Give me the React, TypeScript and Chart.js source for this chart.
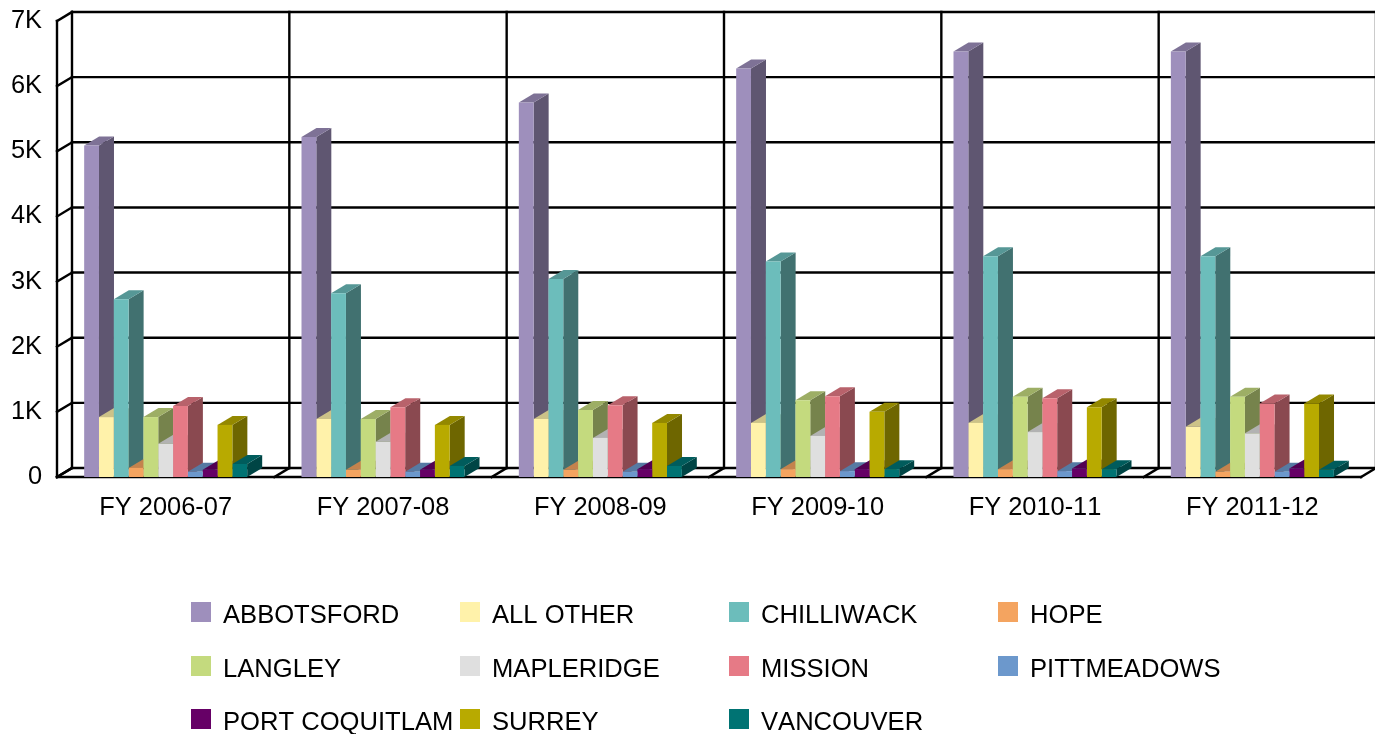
import React, { useEffect, useRef } from "react";
import { Chart, registerables } from "chart.js";

Chart.register(...registerables);

const categories = ["FY 2006-07", "FY 2007-08", "FY 2008-09", "FY 2009-10", "FY 2010-11", "FY 2011-12"];
const abbotsford = [5090, 5220, 5750, 6270, 6530, 6530];
const allOther = [920, 890, 890, 830, 830, 770];
const chilliwack = [2730, 2820, 3040, 3310, 3390, 3390];
const hope = [140, 110, 110, 120, 120, 80];
const langley = [920, 890, 1030, 1180, 1230, 1230];
const mapleridge = [510, 540, 600, 630, 690, 670];
const mission = [1090, 1070, 1100, 1240, 1210, 1130];
const pittmeadows = [80, 80, 80, 90, 90, 80];
const portCoquitlam = [110, 110, 120, 120, 130, 130];
const surrey = [800, 800, 830, 1000, 1070, 1130];
const vancouver = [200, 170, 170, 120, 120, 110];

const seriesNames = ["ABBOTSFORD", "ALL OTHER", "CHILLIWACK", "HOPE", "LANGLEY", "MAPLERIDGE", "MISSION", "PITTMEADOWS", "PORT COQUITLAM", "SURREY", "VANCOUVER"];
const seriesValues = [abbotsford, allOther, chilliwack, hope, langley, mapleridge, mission, pittmeadows, portCoquitlam, surrey, vancouver];
const seriesColors = ["#9E8FBC", "#FFF2AA", "#6CBDBB", "#F4A460", "#C4DA7E", "#DFDFDF", "#E67A86", "#6C98CC", "#660066", "#B8AA00", "#007373"];

const DX = 15;
const DY = 9;
const FONT_FAMILY = '"Liberation Sans", Arial, sans-serif';
const FONT_SIZE = 25.4;
const LEGEND_FONT_SIZE = 25.6;

function shade(hex: string, k: number) {
  const n = parseInt(hex.slice(1), 16);
  const r = Math.round(((n >> 16) & 255) * k);
  const g = Math.round(((n >> 8) & 255) * k);
  const b = Math.round((n & 255) * k);
  return `rgb(${r},${g},${b})`;
}

const wall3d = {
  id: "wall3d",
  beforeDraw(chart: any) {
    chart.ctx.fontKerning = "none";
  },
  beforeDatasetsDraw(chart: any) {
    const { ctx, chartArea: a, scales } = chart;
    const y = scales.y;
    ctx.save();
    ctx.strokeStyle = "#000";
    ctx.lineWidth = 2.4;
    ctx.lineCap = "square";
    const line = (x1: number, y1: number, x2: number, y2: number) => {
      ctx.beginPath();
      ctx.moveTo(x1, y1);
      ctx.lineTo(x2, y2);
      ctx.stroke();
    };
    // back wall horizontals and left wall diagonals
    y.ticks.forEach((t: any) => {
      const py = y.getPixelForValue(t.value);
      line(a.left, py, a.left + DX, py - DY);
      line(a.left + DX, py - DY, a.right + DX, py - DY);
    });
    // category dividers on the back wall and the floor
    const n = categories.length;
    const step = (a.right - a.left) / n;
    for (let i = 0; i <= n; i++) {
      const px = a.left + step * i;
      line(px + DX, a.top - DY, px + DX, a.bottom - DY);
      line(px, a.bottom, px + DX, a.bottom - DY);
    }
    line(a.left, a.top, a.left, a.bottom);
    line(a.left, a.bottom, a.right, a.bottom);
    ctx.restore();

    // extruded tops and sides, left to right; the fronts are drawn by the library afterwards
    for (let c = 0; c < n; c++) {
      seriesValues.forEach((_, d) => {
        const bar = chart.getDatasetMeta(d).data[c];
        const { x, y: top, width, base } = bar.getProps(["x", "y", "width", "base"], true);
        const l = x - width / 2;
        const r = x + width / 2;
        const col = seriesColors[d];
        ctx.fillStyle = shade(col, 0.6);
        ctx.beginPath();
        ctx.moveTo(r, top);
        ctx.lineTo(r + DX, top - DY);
        ctx.lineTo(r + DX, base - DY);
        ctx.lineTo(r, base);
        ctx.closePath();
        ctx.fill();
        ctx.fillStyle = shade(col, 0.8);
        ctx.beginPath();
        ctx.moveTo(l, top);
        ctx.lineTo(l + DX, top - DY);
        ctx.lineTo(r + DX, top - DY);
        ctx.lineTo(r, top);
        ctx.closePath();
        ctx.fill();
      });
    }
  },
};

const gridLegend = {
  id: "gridLegend",
  afterDraw(chart: any) {
    const { ctx } = chart;
    ctx.save();
    ctx.font = `${LEGEND_FONT_SIZE}px ${FONT_FAMILY}`;
    ctx.textBaseline = "middle";
    ctx.textAlign = "left";
    chart.data.datasets.forEach((ds: any, i: number) => {
      const col = i % 4;
      const row = Math.floor(i / 4);
      const x = 191 + col * 269;
      const y = Math.round(602 + row * 53.5);
      ctx.fillStyle = ds.backgroundColor;
      ctx.fillRect(x, y, 20, 20);
      ctx.fillStyle = "#000";
      ctx.fillText(ds.label, x + 32, y + 14);
    });
    ctx.restore();
  },
};

export default function App() {
  const ref = useRef<HTMLCanvasElement>(null);
  useEffect(() => {
    const chart = new Chart(ref.current!, {
      type: "bar",
      data: {
        labels: categories,
        datasets: seriesNames.map((label, i) => ({
          label,
          data: seriesValues[i],
          backgroundColor: seriesColors[i],
          borderWidth: 0,
          categoryPercentage: 0.75,
          barPercentage: 1,
        })),
      },
      options: {
        responsive: false,
        animation: false,
        layout: { padding: { top: 21, right: 14, left: 0, bottom: 0 } },
        plugins: { legend: { display: false }, tooltip: { enabled: false } },
        scales: {
          x: {
            grid: { display: false },
            border: { display: false },
            ticks: { color: "#000", font: { family: FONT_FAMILY, size: FONT_SIZE }, padding: 8, maxRotation: 0 },
            afterFit(s: any) { s.height = 257; s.paddingLeft = 0; s.paddingRight = 0; },
          },
          y: {
            min: 0,
            max: 7000,
            grid: { display: false, drawTicks: false },
            border: { display: false },
            afterFit(s: any) { s.width = 57; s.paddingTop = 0; s.paddingBottom = 0; },
            ticks: {
              stepSize: 1000,
              color: "#000",
              padding: 15,
              font: { family: FONT_FAMILY, size: FONT_SIZE },
              callback: (v: any) => (v === 0 ? "0" : `${v / 1000}K`),
            },
          },
        },
      },
      plugins: [wall3d, gridLegend],
    } as any);
    return () => chart.destroy();
  }, []);
  return (
    <div style={{ position: "absolute", left: 0, top: 0, background: "#fff" }}>
      <canvas ref={ref} width={1375} height={734} style={{ display: "block" }} />
    </div>
  );
}
